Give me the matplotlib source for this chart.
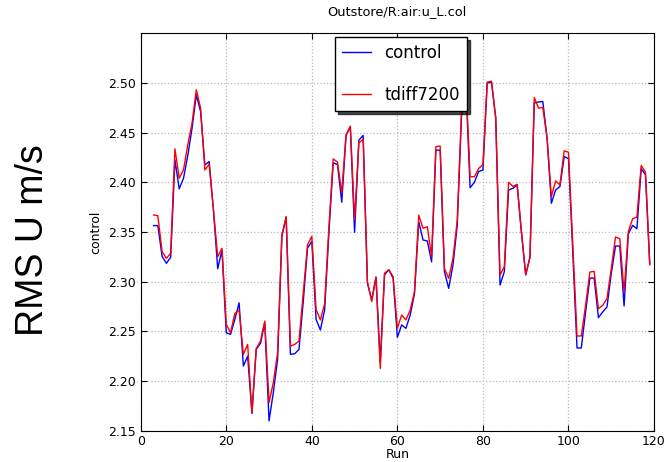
import matplotlib.pyplot as plt
import numpy as np

runs = list(range(3, 120))

control = [2.3565, 2.3565, 2.3255, 2.3185, 2.3245, 2.4227, 2.3935, 2.4040, 2.4270, 2.4546,
           2.4882, 2.4714, 2.4176, 2.4210, 2.3723, 2.3130, 2.3320, 2.2485, 2.2469, 2.2620,
           2.2787, 2.2150, 2.2250, 2.1675, 2.2318, 2.2378, 2.2586, 2.1598, 2.1883, 2.2217,
           2.3456, 2.3650, 2.2268, 2.2274, 2.2318, 2.2803, 2.3339, 2.3406, 2.2620, 2.2513,
           2.2715, 2.3500, 2.4197, 2.4180, 2.3800, 2.4473, 2.4560, 2.3497, 2.4426, 2.4473,
           2.2985, 2.2817, 2.3046, 2.2190, 2.3069, 2.3120, 2.3035, 2.2440, 2.2564, 2.2530,
           2.2664, 2.2880, 2.3604, 2.3420, 2.3410, 2.3200, 2.4325, 2.4325, 2.3100, 2.2933,
           2.3168, 2.3570, 2.4680, 2.5000, 2.3946, 2.4000, 2.4110, 2.4124, 2.5000, 2.5010,
           2.4647, 2.2966, 2.3100, 2.3924, 2.3940, 2.3975, 2.3500, 2.3067, 2.3250, 2.4800,
           2.4810, 2.4815, 2.4445, 2.3790, 2.3924, 2.3958, 2.4260, 2.4240, 2.3300, 2.2332,
           2.2332, 2.2695, 2.3037, 2.3037, 2.2638, 2.2695, 2.2745, 2.3080, 2.3359, 2.3359,
           2.2755, 2.3483, 2.3567, 2.3533, 2.4138, 2.4077, 2.3180]

tdiff7200 = [2.3672, 2.3665, 2.3303, 2.3235, 2.3286, 2.4338, 2.4042, 2.4126, 2.4378, 2.4597,
             2.4933, 2.4748, 2.4126, 2.4183, 2.3723, 2.3252, 2.3336, 2.2570, 2.2485, 2.2680,
             2.2713, 2.2268, 2.2368, 2.1675, 2.2325, 2.2402, 2.2603, 2.1782, 2.1983, 2.2284,
             2.3473, 2.3655, 2.2351, 2.2368, 2.2402, 2.2887, 2.3373, 2.3456, 2.2720, 2.2614,
             2.2780, 2.3550, 2.4237, 2.4204, 2.3894, 2.4480, 2.4567, 2.3625, 2.4400, 2.4433,
             2.3000, 2.2800, 2.3046, 2.2126, 2.3086, 2.3120, 2.3052, 2.2530, 2.2664, 2.2614,
             2.2715, 2.2900, 2.3670, 2.3537, 2.3554, 2.3250, 2.4360, 2.4366, 2.3134, 2.3033,
             2.3235, 2.3620, 2.4720, 2.5020, 2.4057, 2.4057, 2.4140, 2.4180, 2.5010, 2.5020,
             2.4647, 2.3067, 2.3150, 2.4000, 2.3960, 2.3980, 2.3500, 2.3070, 2.3242, 2.4855,
             2.4748, 2.4755, 2.4445, 2.3857, 2.4015, 2.3975, 2.4318, 2.4304, 2.3380, 2.2453,
             2.2453, 2.2762, 2.3097, 2.3104, 2.2728, 2.2762, 2.2829, 2.3130, 2.3450, 2.3433,
             2.2896, 2.3507, 2.3634, 2.3651, 2.4171, 2.4104, 2.3170]

x_ticks = [0, 20, 40, 60, 80, 100, 120]
y_ticks = [2.15, 2.20, 2.25, 2.30, 2.35, 2.40, 2.45, 2.50]

fig = plt.figure(figsize = (6.65, 4.62), dpi = 100)
ax = fig.add_axes([0.2116, 0.068, 0.7719, 0.8595])

ax.plot(runs, control, color = "blue", linewidth = 1.0, label = "control")
ax.plot(runs, tdiff7200, color = "red", linewidth = 1.0, label = "tdiff7200")

ax.set_xlim(0, 120)
ax.set_ylim(2.15, 2.55)
ax.set_xticks(x_ticks)
ax.set_yticks(y_ticks)
ax.set_yticklabels(["%.2f" % v for v in y_ticks])
ax.tick_params(direction = "in", top = True, right = True, labelsize = 9, length = 4)
ax.grid(True, linestyle = ":", color = "0.72", linewidth = 0.9)
ax.set_title("Outstore/R:air:u_L.col", fontsize = 9.3, pad = 13)
ax.set_xlabel("Run", fontsize = 9, labelpad = 0)
ax.set_ylabel("control", fontsize = 9, labelpad = 4)

leg = ax.legend(loc = "upper left", bbox_to_anchor = (0.372, 1.0), fontsize = 12,
                shadow = {"color": "black", "alpha": 0.7}, fancybox = False,
                borderpad = 0.45, labelspacing = 1.4, borderaxespad = 0.2,
                handlelength = 1.7, handletextpad = 0.8)
leg.get_frame().set_edgecolor("black")
leg.get_frame().set_alpha(1.0)

fig.text(0.05, 0.48, "RMS U m/s", rotation = 90, fontsize = 27, family = "Liberation Sans",
         ha = "center", va = "center")

plt.savefig("out.png", format = "png")
plt.close(fig)
